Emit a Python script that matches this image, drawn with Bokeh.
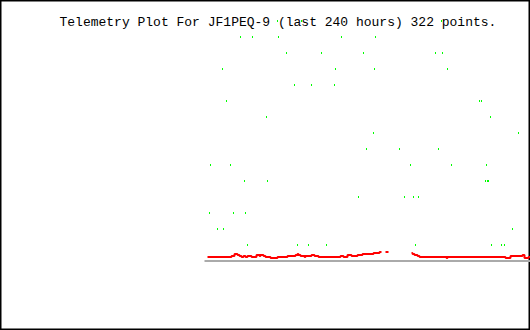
from bokeh.plotting import figure
from bokeh.models import Range1d, Label
from bokeh.embed import file_html
from bokeh.resources import INLINE

# ---- data (x: hours relative to now, y: raw telemetry value 0-255) ----
title_text = "Telemetry Plot For JF1PEQ-9 (last 240 hours) 322 points."

# green channel: sparse samples
green_hours = [
    -125.5, -113.5, -43.5,                                   # 240
    -144.0, -138.0, -125.0, -93.5, -76.5,                    # 224
    -121.0, -103.5, -82.5, -46.5, -43.0,                     # 208
    -153.0, -96.5, -77.0, -40.5,                             # 192
    -117.0, -108.5, -97.0,                                   # 176
    -151.0, -24.5, -23.5,                                    # 160
    -131.0, -19.0,                                           # 144
    -77.5, -5.0,                                             # 128
    -81.0, -64.5, -45.0,                                     # 112
    -159.0, -149.0, -59.0, -38.5, -21.0,                     # 96
    -142.0, -130.5, -21.5, -20.5, -20.0,                     # 80
    -85.0, -62.0, -57.5, -55.0,                              # 64
    -159.5, -147.5, -141.5,                                  # 48
    -155.5, -152.5, -8.0,                                    # 32
    -140.5, -115.5, -110.0, -101.0, -56.5, -18.5, -13.5, -12.0,  # 16
]
green_values = (
    [240] * 3 + [224] * 5 + [208] * 5 + [192] * 4 + [176] * 3 + [160] * 3 +
    [144] * 2 + [128] * 2 + [112] * 3 + [96] * 5 + [80] * 5 + [64] * 4 +
    [48] * 3 + [32] * 3 + [16] * 8
)

# red channel: step change points, None marks a gap in reception
red_hours = [
    -160.5, -148.5, -147.0, -145.5, -144.5, -143.5, -142.5, -141.5, -140.5,
    -138.5, -136.0, -134.5, -134.0, -132.5, -131.5, -129.0, -125.5, -120.5,
    -116.5, -115.5, -115.0, -114.0, -112.0, -111.5, -108.5, -107.0, -105.0,
    -94.0, -92.5, -90.5, -88.5, -85.5, -83.0, -77.5, -74.5, -73.5,
    None,
    -71.5, -70.0,
    None,
    -58.5, -58.0, -57.0, -55.5, -54.5, -41.0, -40.5, -11.5, -9.0, -3.0,
    -2.0, 0.0, 0.75,
]
red_values = [
    4, 5, 7, 6, 5, 4, 5, 4, 5,
    4, 6, 5, 6, 5, 4, 3, 4, 5,
    6, 7, 6, 5, 4, 5, 6, 5, 4,
    5, 4, 6, 5, 6, 7, 8, 9, 9,
    None,
    9, 9,
    None,
    8, 7, 6, 5, 4, 3, 4, 3, 5, 6,
    3, 4, 4,
]

baseline_hours = [-162.0, 0.75]
baseline_values = [0, 0]

# half-pixel render correction (1 px = 0.5 h horizontally, 1 unit vertically)
DX = -0.25
DY = 0.5

# ---- figure ----
p = figure(width=530, height=330, output_backend="svg", toolbar_location=None,
           x_range=Range1d(-264.25, 0.75), y_range=Range1d(-69, 261),
           min_border=0, min_border_left=0, min_border_right=0,
           min_border_top=0, min_border_bottom=0)
p.xaxis.visible = False
p.yaxis.visible = False
p.grid.visible = False
p.background_fill_color = "white"
p.border_fill_color = "white"
p.outline_line_color = "black"
p.outline_line_width = 2

p.add_layout(Label(x=59, y=308, x_units="screen", y_units="screen",
                   text=title_text, text_font="Liberation Mono",
                   text_font_size="13px", text_color="black",
                   text_baseline="alphabetic", level="underlay"))

# baseline
p.line([h + DX for h in baseline_hours], [v + DY for v in baseline_values],
       line_color="#aaaaaa", line_width=2)

# red series split into segments at gaps
seg_x, seg_y = [], []
for h, v in zip(red_hours + [None], red_values + [None]):
    if h is None:
        if seg_x:
            p.step(seg_x, seg_y, mode="after", line_color="#ff0000", line_width=2)
        seg_x, seg_y = [], []
    else:
        seg_x.append(h + DX)
        seg_y.append(v + DY)

# green samples: one pixel wide, two pixels tall
gl = [h - 0.25 + DX for h in green_hours]
gr = [h + 0.25 + DX for h in green_hours]
gb = [v - 1 + DY for v in green_values]
gt = [v + 1 + DY for v in green_values]
p.quad(left=gl, right=gr, bottom=gb, top=gt, fill_color="#00ff00",
       line_color=None)

open("out.html", "w").write(file_html(p, INLINE))
